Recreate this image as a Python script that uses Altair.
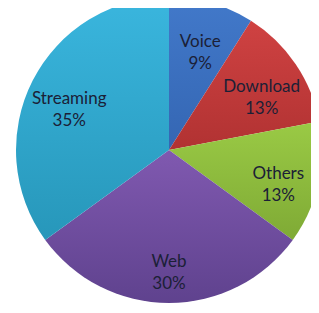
import math
import altair as alt
import pandas as pd

categories = ["Voice", "Download", "Others", "Web", "Streaming"]
shares = [9, 13, 13, 30, 35]
light_colors = ["#4279CA", "#CF4242", "#9ACA45", "#8059B0", "#3AB6DE"]
dark_colors = ["#3466B3", "#B13232", "#7FAA35", "#5F428E", "#2797BA"]

df = pd.DataFrame({"category": categories, "share": shares, "idx": list(range(len(categories)))})

CX, CY, R = 161, 142, 153
theta_scale = alt.Scale(domain=[0, 100], range=[0, 2 * math.pi])

base = alt.Chart(df).transform_window(
    cum="sum(share)", sort=[alt.SortField("idx")], frame=[None, 0]
).transform_calculate(
    start="datum.cum - datum.share",
    mid="datum.cum - datum.share / 2",
    label="[datum.category, datum.share + '%']",
)

layers = []
for cat, lc, dc in zip(categories, light_colors, dark_colors):
    grad = alt.LinearGradient(
        gradient="linear", x1=0, y1=0, x2=0, y2=1,
        stops=[alt.GradientStop(offset=0, color=lc), alt.GradientStop(offset=1, color=dc)],
    )
    layers.append(
        base.transform_filter(alt.datum.category == cat).mark_arc(radius=R, fill=grad).encode(
            theta=alt.Theta("start:Q", scale=theta_scale),
            theta2="cum:Q",
            x=alt.value(CX),
            y=alt.value(CY),
        )
    )

labels = base.mark_text(
    radius=112, font="Lato", fontSize=17, lineHeight=22, color="#1B2036", baseline="middle", align="center"
).encode(
    theta=alt.Theta("mid:Q", scale=theta_scale),
    text="label:N",
    x=alt.value(CX),
    y=alt.value(CY),
)

chart = alt.layer(*layers, labels).properties(
    width=303, height=297, autosize="none", padding=0
).configure_view(stroke=None)

chart.save("out.html", embed_options={"renderer": "svg", "actions": False})
